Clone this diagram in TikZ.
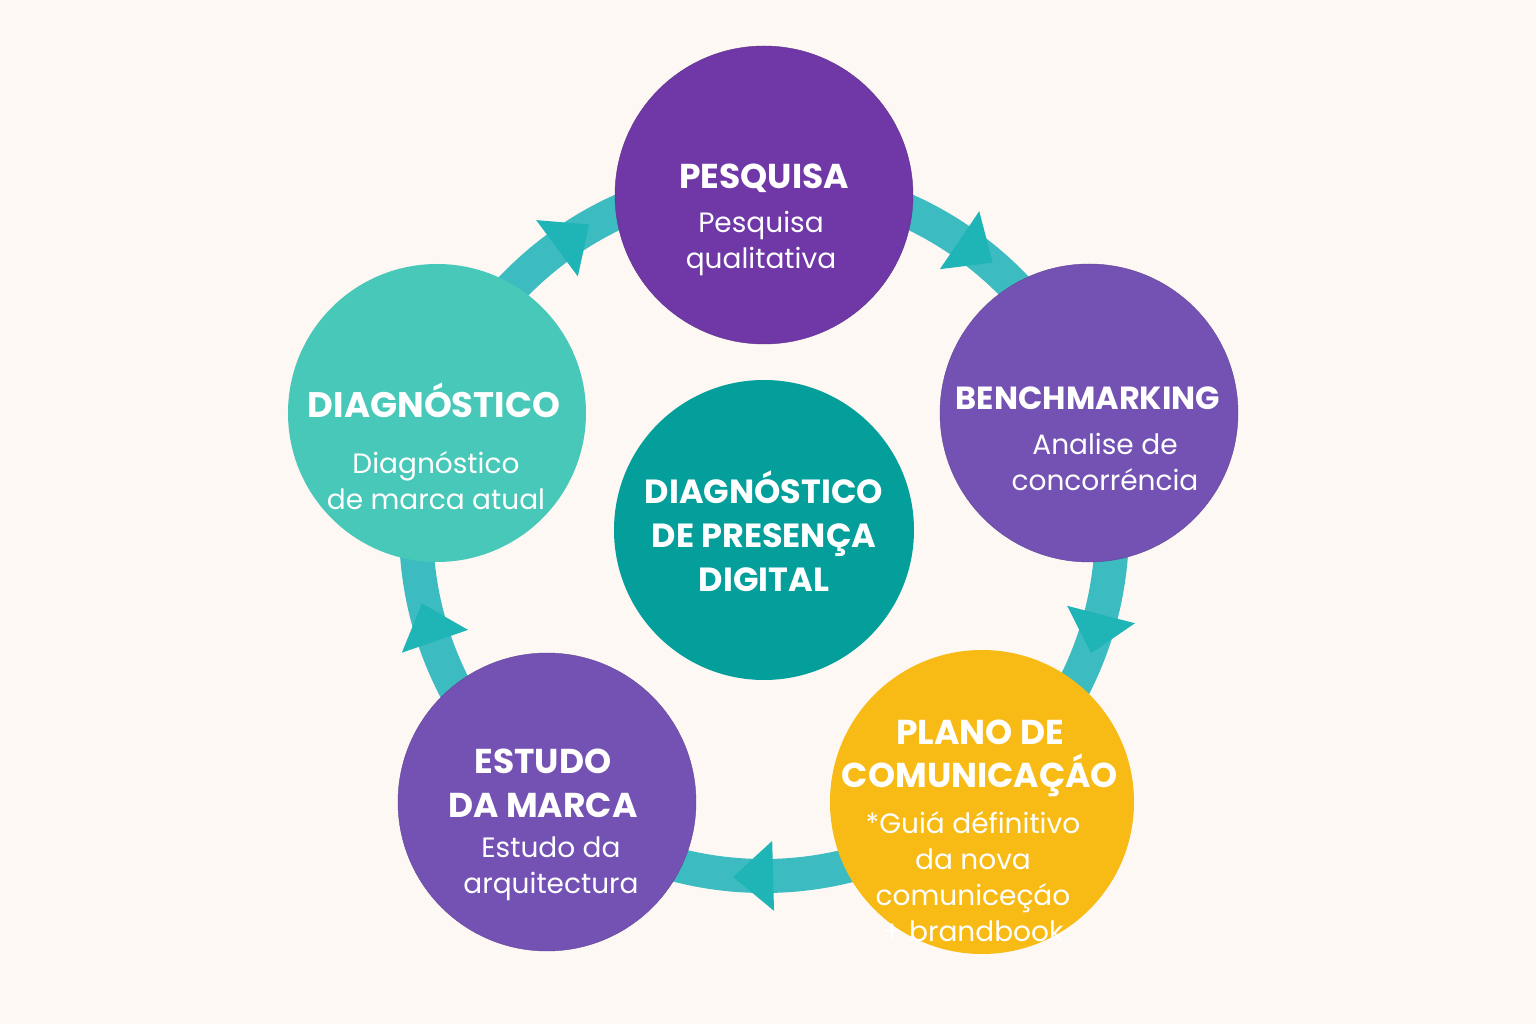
\documentclass[tikz,border=0pt]{standalone}
\usepackage{fontspec}
\setmainfont{Poppins}
\definecolor{paper}{RGB}{253,248,243}
\definecolor{grape}{RGB}{111,56,166}
\definecolor{lav}{RGB}{115,82,179}
\definecolor{mint}{RGB}{71,200,184}
\definecolor{deepteal}{RGB}{4,159,155}
\definecolor{sun}{RGB}{248,186,20}
\definecolor{ringteal}{RGB}{60,188,192}
\definecolor{headteal}{RGB}{31,180,181}

\tikzset{
  stage/.style={circle,minimum size=298pt,inner sep=0pt},
  head/.style={anchor=base,align=center,text=white,font=\fontsize{34.5}{44}\selectfont\bfseries},
  body/.style={anchor=base,align=center,text=white,font=\fontsize{28}{36}\selectfont},
}

\begin{document}
\begin{tikzpicture}[x=1pt,y=1pt]
\useasboundingbox[fill=paper] (-764,-496) rectangle (772,528);
\coordinate (hub) at (0,0);

% ring and arrow heads
\draw[ringteal,line width=34pt] (hub) circle (348);
\foreach \a in {126.5,55.8,-14.4,-88.5,-161}{
  \fill[headteal,shift={(\a:348)},rotate=\a-90] (0,-35) -- (40,0) -- (0,35) -- cycle;
}

% stages
\node[stage,fill=grape,draw=grape!85!black] (pesq) at (0,333) {};
\node[stage,fill=lav,draw=lav!85!black] (bench) at (325,115) {};
\node[stage,fill=sun,minimum size=304pt] (plano) at (218,-274) {};
\node[stage,fill=lav,draw=lav!85!black] (estudo) at (-217,-274) {};
\node[stage,fill=mint] (diag) at (-327,115) {};
\node[stage,fill=deepteal,minimum size=300pt] (core) at (0,-2) {};

% texts (base = last line)
\node[head] (pesq-h) at ([yshift=6]pesq) {PESQUISA};
\node[body] (pesq-b) at ([shift={(-3,-74)}]pesq) {Pesquisa\\qualitativa};
\node[head,font=\fontsize{32}{44}\selectfont\bfseries] (bench-h) at ([shift={(-1,3)}]bench) {BENCHMARKING};
\node[body] (bench-b) at ([shift={(16,-78)}]bench) {Analise de\\concorréncia};
\node[head,font=\fontsize{35.5}{44}\selectfont\bfseries] (diag-h) at ([shift={(-3,-5)}]diag) {DIAGNÓSTICO};
\node[body] (diag-b) at ([shift={(-1,-97)}]diag) {Diagnóstico\\de marca atual};
\node[head,font=\fontsize{33.5}{44}\selectfont\bfseries] (core-h) at ([yshift=-62]core) {DIAGNÓSTICO\\DE PRESENÇA\\DIGITAL};
\node[head] (plano-h) at ([shift={(-2,14)}]plano) {PLANO DE\\COMUNICAÇÁO};
\node[body] (plano-b) at ([shift={(-9,-139)}]plano) {*Guiá définitivo\\da nova\\comuniceçáo\\+ brandbook};
\node[head] (estudo-h) at ([shift={(-4,-15)}]estudo) {ESTUDO\\DA MARCA};
\node[body] (estudo-b) at ([shift={(4,-91)}]estudo) {Estudo da\\arquitectura};
\end{tikzpicture}
\end{document}
